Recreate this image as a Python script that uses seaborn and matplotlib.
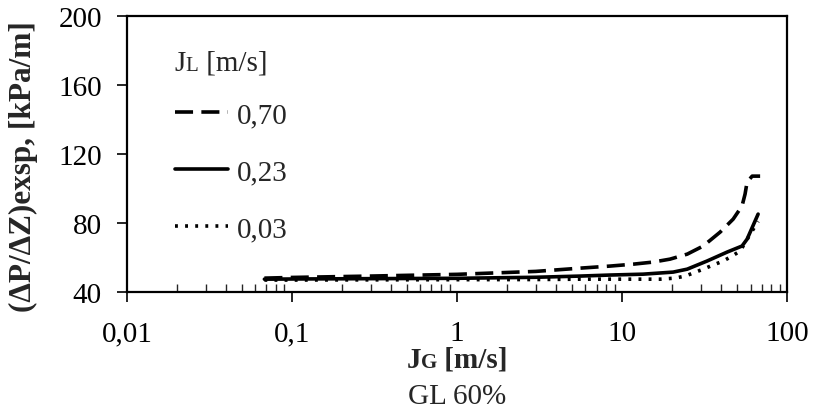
import matplotlib
matplotlib.use("Agg")
import matplotlib.pyplot as plt
import pandas as pd
import seaborn as sns
from matplotlib.lines import Line2D
from matplotlib.offsetbox import AnchoredOffsetbox, HPacker, TextArea
from matplotlib.ticker import FixedLocator, LogLocator, NullFormatter

# values (JG in m/s, pressure gradient in kPa/m)
jg_070 = [0.068, 0.1, 0.3, 1, 3, 5.6, 8.5, 11.7, 15.4, 19.5, 24.8, 31, 39.3, 47.1, 53.3, 55.6, 57.2, 61.4, 68.6]
dp_070 = [48.1, 48.5, 49.3, 50.3, 52.0, 53.9, 55.1, 56.2, 57.4, 59.1, 62.0, 66.7, 74.8, 82.3, 89.9, 96.8, 103.8, 107.2, 107.2]

jg_023 = [0.068, 0.1, 0.3, 1, 3, 5.6, 8.5, 13.4, 20.4, 24.8, 32.7, 43.3, 53.3, 57.2, 66.7]
dp_023 = [47.5, 47.6, 47.8, 48.0, 48.6, 49.3, 49.9, 50.4, 51.6, 53.3, 58.0, 63.2, 66.7, 70.7, 85.2]

jg_003 = [0.068, 0.1, 0.3, 1, 3, 5.6, 13.4, 17, 20.9, 24.1, 26.9, 31, 35.6, 41, 46.4, 51.9, 64, 66.7]
dp_003 = [47.0, 47.0, 47.1, 47.2, 47.3, 47.5, 47.5, 47.5, 48.1, 49.3, 51.0, 53.3, 55.7, 58.0, 60.9, 63.8, 78.3, 81.0]

series_labels = ["0,70", "0,23", "0,03"]
x_ticks = [0.01, 0.1, 1, 10, 100]
x_tick_labels = ["0,01", "0,1", "1", "10", "100"]
y_ticks = [40, 80, 120, 160, 200]

df = pd.concat([
    pd.DataFrame({"JG": jg_070, "dP": dp_070, "JL": "0,70"}),
    pd.DataFrame({"JG": jg_023, "dP": dp_023, "JL": "0,23"}),
    pd.DataFrame({"JG": jg_003, "dP": dp_003, "JL": "0,03"}),
], ignore_index=True)

sns.set_style("white")
plt.rcParams["font.family"] = ["Liberation Serif", "DejaVu Serif"]

dash_styles = {"0,70": (5, 2.3), "0,23": "", "0,03": (0.8, 2.0)}
lw = 2.6

fig = plt.figure(figsize=(8.14, 4.14), dpi=100)
ax = fig.add_axes([0.156, 0.292, 0.811, 0.667])

sns.lineplot(
    data=df, x="JG", y="dP", hue="JL", style="JL",
    hue_order=series_labels, style_order=series_labels,
    palette=["black"] * 3, dashes=dash_styles,
    sort=False, estimator=None, linewidth=lw, legend=False, ax=ax,
)

ax.set_xscale("log")
ax.set_xlim(0.01, 100)
ax.set_ylim(40, 200)
ax.xaxis.set_major_locator(FixedLocator(x_ticks))
ax.set_xticklabels(x_tick_labels)
ax.xaxis.set_minor_locator(LogLocator(base=10, subs=range(2, 10)))
ax.xaxis.set_minor_formatter(NullFormatter())
ax.set_yticks(y_ticks)
ax.set_xlabel("")
ax.set_ylabel("(ΔP/ΔZ)exsp, [kPa/m]", fontsize=22.5, fontweight="bold")
ax.yaxis.set_label_coords(-0.135, 0.46)

for side in ["top", "right", "bottom", "left"]:
    ax.spines[side].set_visible(True)
    ax.spines[side].set_color("black")
    ax.spines[side].set_linewidth(1.6)

ax.tick_params(axis="both", which="major", labelsize=21, colors="black",
               direction="out", length=7, width=1.2)
ax.tick_params(axis="x", which="major", pad=13, bottom=True)
ax.tick_params(axis="y", which="major", pad=11, left=True)
ax.tick_params(axis="x", which="minor", direction="in", length=6, width=1.0, bottom=True)

# legend entries, title built separately so the "L" can be small
handles = [Line2D([], [], color="black", lw=lw, linestyle=(0, dash_styles[s]) if dash_styles[s] else "-")
           for s in series_labels]
ax.legend(handles, series_labels, loc="upper left", bbox_to_anchor=(0.072, 0.69),
          frameon=False, fontsize=21, handlelength=1.85, handletextpad=0.3,
          labelspacing=1.05, borderpad=0, borderaxespad=0)

def small_sub_label(main, sub, rest, size, sub_size, weight):
    parts = [TextArea(main, textprops=dict(fontsize=size, fontweight=weight)),
             TextArea(sub, textprops=dict(fontsize=sub_size, fontweight=weight)),
             TextArea(rest, textprops=dict(fontsize=size, fontweight=weight))]
    return HPacker(children=parts, align="baseline", pad=0, sep=0)

leg_title = AnchoredOffsetbox(loc="center left", child=small_sub_label("J", "L", " [m/s]", 21, 15, "normal"),
                              bbox_to_anchor=(0.072, 0.83), bbox_transform=ax.transAxes,
                              frameon=False, pad=0, borderpad=0)
ax.add_artist(leg_title)

x_label = AnchoredOffsetbox(loc="upper center", child=small_sub_label("J", "G", " [m/s]", 21, 15, "bold"),
                            bbox_to_anchor=(0.5, -0.195), bbox_transform=ax.transAxes,
                            frameon=False, pad=0, borderpad=0)
ax.add_artist(x_label)

ax.text(0.5, -0.33, "GL 60%", transform=ax.transAxes, ha="center", va="top", fontsize=21)

fig.savefig("out.png", dpi=100)
